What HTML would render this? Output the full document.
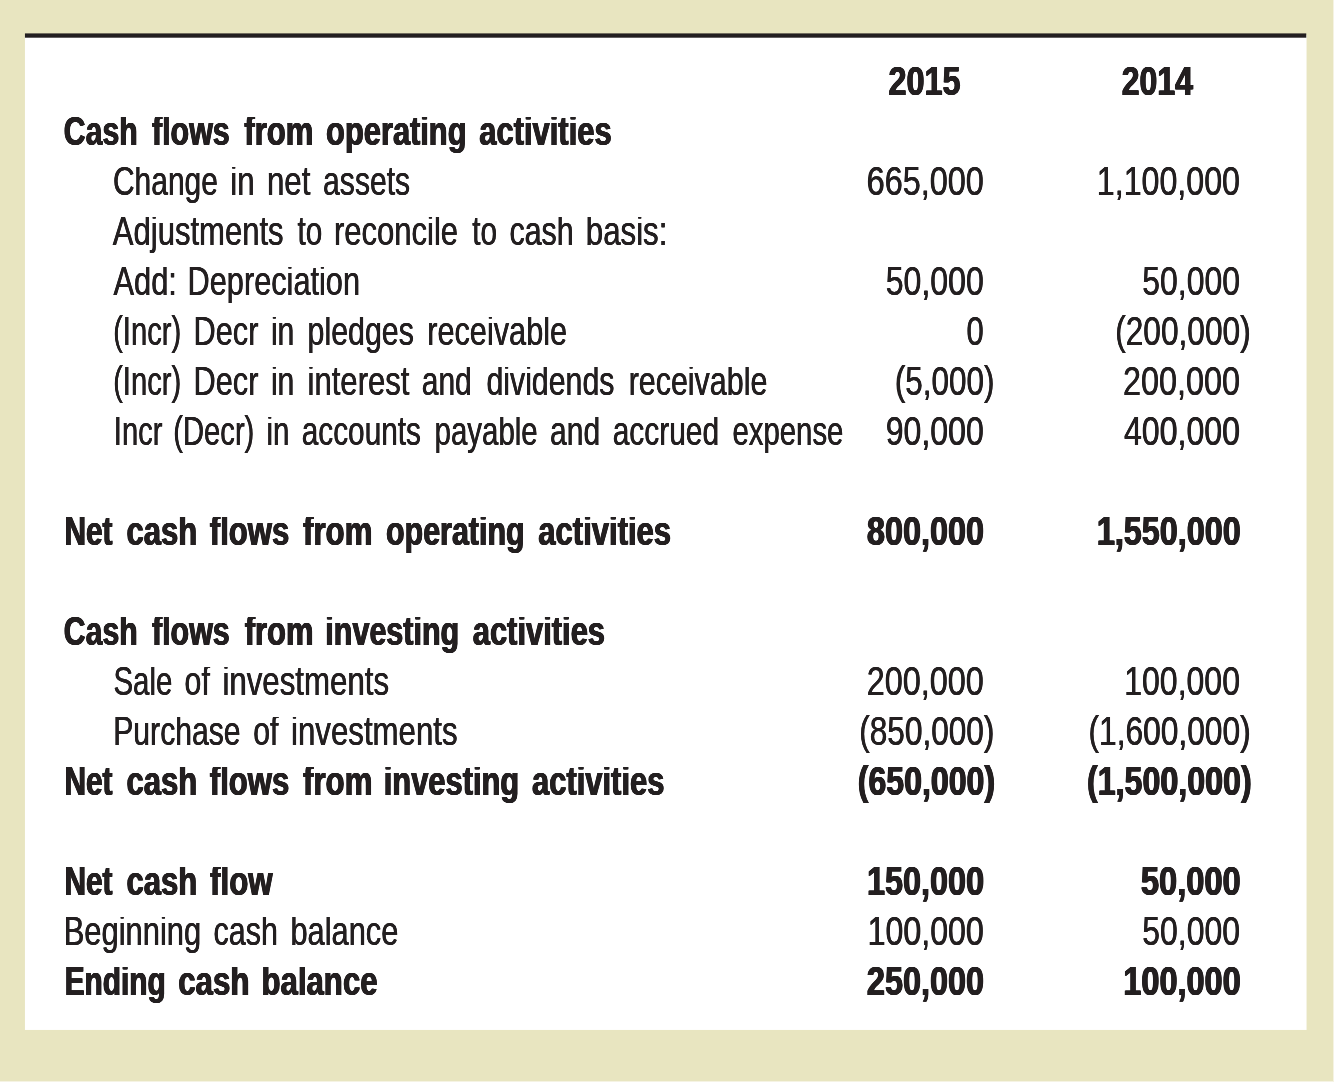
<!DOCTYPE html>
<html lang="en">
<head>
<meta charset="utf-8">
<title>Statement of Cash Flows</title>
<style>
html,body{margin:0;padding:0}
body{width:1334px;height:1082px;position:relative;overflow:hidden;background:#e8e5c0;color:#231f20;font-family:"Liberation Sans",sans-serif}
#sheet{position:absolute;left:0;top:0;width:1334px;height:1082px}
#er{position:absolute;left:1333px;top:0;width:1px;height:1082px;background:rgba(255,255,255,.55)}
#eb{position:absolute;left:0;top:1081px;width:1333px;height:1px;background:rgba(255,255,255,.55)}
.r{position:absolute;left:0;width:1334px;height:50px;font-size:41px;line-height:50px;white-space:pre}
.r span,.r b{position:absolute;left:0;top:0;transform-origin:0 0;clip-path:inset(10.91px -3px -3px -3px)}
.r .n{font-size:40px;clip-path:none}
.r .p{clip-path:none}
.r span{font-weight:normal;text-shadow:0.34px 0 0 #231f20,-0.34px 0 0 #231f20}
.r b{font-weight:bold;text-shadow:0.66px 0 0 #231f20,-0.66px 0 0 #231f20,0.33px 0 0 #231f20,-0.33px 0 0 #231f20}
</style>
</head>
<body>
<svg id="sheet" width="1334" height="1082" viewBox="0 0 1334 1082" role="presentation"><rect x="24.95" y="35" width="1281.6" height="994.95" fill="#fff"/><rect x="24.95" y="33.4" width="1281.3" height="4.3" fill="#231f20"/></svg>
<div id="er"></div><div id="eb"></div>

<div class="r" style="top:95.30px">
<b class="n" style="transform:translate(888.49px,-38.87px) scaleX(0.8104)">2015</b>
<b class="n" style="transform:translate(1121.80px,-38.87px) scaleX(0.7990)">2014</b>
</div>
<div class="r" style="top:145.30px">
<b style="transform:translate(63.86px,-39.21px) scaleX(0.7355)">Cash</b> <b style="transform:translate(152.00px,-39.21px) scaleX(0.7415)">flows</b> <b style="transform:translate(244.30px,-39.21px) scaleX(0.7591)">from</b> <b style="transform:translate(326.05px,-39.21px) scaleX(0.7522)">operating</b> <b style="transform:translate(479.35px,-39.21px) scaleX(0.7536)">activities</b>
</div>
<div class="r" style="top:195.30px">
<span style="transform:translate(112.99px,-39.21px) scaleX(0.7302)">Change</span> <span style="transform:translate(230.26px,-39.21px) scaleX(0.7624)">in</span> <span style="transform:translate(266.93px,-39.21px) scaleX(0.7624)">net</span> <span style="transform:translate(323.12px,-39.21px) scaleX(0.7342)">assets</span>
<span class="n" style="transform:translate(866.63px,-38.87px) scaleX(0.8101)">665,000</span>
<span class="n" style="transform:translate(1096.84px,-38.87px) scaleX(0.8042)">1,100,000</span>
</div>
<div class="r" style="top:245.30px">
<span style="transform:translate(112.85px,-39.21px) scaleX(0.7566)">Adjustments</span> <span style="transform:translate(297.55px,-39.21px) scaleX(0.7247)">to</span> <span style="transform:translate(333.94px,-39.21px) scaleX(0.7568)">reconcile</span> <span style="transform:translate(472.25px,-39.21px) scaleX(0.7247)">to</span> <span style="transform:translate(509.41px,-39.21px) scaleX(0.7422)">cash</span> <span style="transform:translate(585.75px,-39.21px) scaleX(0.7624)">basis:</span>
</div>
<div class="r" style="top:295.30px">
<span style="transform:translate(113.45px,-39.21px) scaleX(0.7523)">Add:</span> <span style="transform:translate(187.60px,-39.21px) scaleX(0.7489)">Depreciation</span>
<span class="n" style="transform:translate(885.75px,-38.87px) scaleX(0.8010)">50,000</span>
<span class="n" style="transform:translate(1142.35px,-38.87px) scaleX(0.7977)">50,000</span>
</div>
<div class="r" style="top:345.30px">
<span class="p" style="transform:translate(113.13px,-39.21px) scaleX(0.7120)">(Incr)</span> <span style="transform:translate(193.60px,-39.21px) scaleX(0.7490)">Decr</span> <span style="transform:translate(270.88px,-39.21px) scaleX(0.7364)">in</span> <span style="transform:translate(307.57px,-39.21px) scaleX(0.7398)">pledges</span> <span style="transform:translate(427.25px,-39.21px) scaleX(0.7483)">receivable</span>
<span class="n" style="transform:translate(966.53px,-38.87px) scaleX(0.7726)">0</span>
<span class="n" style="transform:translate(1115.17px,-38.87px) scaleX(0.7914)">(200,000)</span>
</div>
<div class="r" style="top:395.30px">
<span class="p" style="transform:translate(113.13px,-39.21px) scaleX(0.7120)">(Incr)</span> <span style="transform:translate(193.60px,-39.21px) scaleX(0.7490)">Decr</span> <span style="transform:translate(270.88px,-39.21px) scaleX(0.7364)">in</span> <span style="transform:translate(307.53px,-39.21px) scaleX(0.7583)">interest</span> <span style="transform:translate(421.72px,-39.21px) scaleX(0.7317)">and</span> <span style="transform:translate(486.41px,-39.21px) scaleX(0.7390)">dividends</span> <span style="transform:translate(628.67px,-39.21px) scaleX(0.7418)">receivable</span>
<span class="n" style="transform:translate(894.88px,-38.87px) scaleX(0.7850)">(5,000)</span>
<span class="n" style="transform:translate(1123.03px,-38.87px) scaleX(0.8087)">200,000</span>
</div>
<div class="r" style="top:445.30px">
<span style="transform:translate(113.82px,-39.21px) scaleX(0.7109)">Incr</span> <span class="p" style="transform:translate(173.35px,-39.21px) scaleX(0.7109)">(Decr)</span> <span style="transform:translate(266.41px,-39.21px) scaleX(0.7186)">in</span> <span style="transform:translate(301.72px,-39.21px) scaleX(0.7269)">accounts</span> <span style="transform:translate(434.62px,-39.21px) scaleX(0.7174)">payable</span> <span style="transform:translate(550.02px,-39.21px) scaleX(0.7317)">and</span> <span style="transform:translate(612.72px,-39.21px) scaleX(0.7291)">accrued</span> <span style="transform:translate(732.43px,-39.21px) scaleX(0.7161)">expense</span>
<span class="n" style="transform:translate(885.75px,-38.87px) scaleX(0.8010)">90,000</span>
<span class="n" style="transform:translate(1123.95px,-38.87px) scaleX(0.8023)">400,000</span>
</div>
<div class="r" style="top:545.30px">
<b style="transform:translate(64.46px,-39.21px) scaleX(0.7275)">Net</b> <b style="transform:translate(126.54px,-39.21px) scaleX(0.7566)">cash</b> <b style="transform:translate(209.80px,-39.21px) scaleX(0.7578)">flows</b> <b style="transform:translate(303.10px,-39.21px) scaleX(0.7603)">from</b> <b style="transform:translate(386.06px,-39.21px) scaleX(0.7413)">operating</b> <b style="transform:translate(538.34px,-39.21px) scaleX(0.7565)">activities</b>
<b class="n" style="transform:translate(866.89px,-38.87px) scaleX(0.8107)">800,000</b>
<b class="n" style="transform:translate(1096.88px,-38.87px) scaleX(0.8082)">1,550,000</b>
</div>
<div class="r" style="top:645.30px">
<b style="transform:translate(63.86px,-39.21px) scaleX(0.7355)">Cash</b> <b style="transform:translate(152.00px,-39.21px) scaleX(0.7415)">flows</b> <b style="transform:translate(244.70px,-39.21px) scaleX(0.7546)">from</b> <b style="transform:translate(325.31px,-39.21px) scaleX(0.7440)">investing</b> <b style="transform:translate(472.75px,-39.21px) scaleX(0.7536)">activities</b>
</div>
<div class="r" style="top:695.30px">
<span style="transform:translate(113.43px,-39.21px) scaleX(0.7179)">Sale</span> <span style="transform:translate(184.61px,-39.21px) scaleX(0.7366)">of</span> <span style="transform:translate(222.43px,-39.21px) scaleX(0.7616)">investments</span>
<span class="n" style="transform:translate(866.73px,-38.87px) scaleX(0.8094)">200,000</span>
<span class="n" style="transform:translate(1124.25px,-38.87px) scaleX(0.8002)">100,000</span>
</div>
<div class="r" style="top:745.30px">
<span style="transform:translate(113.24px,-39.21px) scaleX(0.7351)">Purchase</span> <span style="transform:translate(253.21px,-39.21px) scaleX(0.7366)">of</span> <span style="transform:translate(291.03px,-39.21px) scaleX(0.7616)">investments</span>
<span class="n" style="transform:translate(859.27px,-38.87px) scaleX(0.7890)">(850,000)</span>
<span class="n" style="transform:translate(1088.46px,-38.87px) scaleX(0.7929)">(1,600,000)</span>
</div>
<div class="r" style="top:795.30px">
<b style="transform:translate(64.46px,-39.21px) scaleX(0.7275)">Net</b> <b style="transform:translate(126.54px,-39.21px) scaleX(0.7566)">cash</b> <b style="transform:translate(209.80px,-39.21px) scaleX(0.7578)">flows</b> <b style="transform:translate(303.10px,-39.21px) scaleX(0.7603)">from</b> <b style="transform:translate(383.69px,-39.21px) scaleX(0.7531)">investing</b> <b style="transform:translate(532.05px,-39.21px) scaleX(0.7542)">activities</b>
<b class="n" style="transform:translate(857.80px,-38.87px) scaleX(0.8016)">(650,000)</b>
<b class="n" style="transform:translate(1086.99px,-38.87px) scaleX(0.8049)">(1,500,000)</b>
</div>
<div class="r" style="top:895.30px">
<b style="transform:translate(64.46px,-39.21px) scaleX(0.7275)">Net</b> <b style="transform:translate(126.54px,-39.21px) scaleX(0.7566)">cash</b> <b style="transform:translate(210.10px,-39.21px) scaleX(0.7626)">flow</b>
<b class="n" style="transform:translate(866.98px,-38.87px) scaleX(0.8101)">150,000</b>
<b class="n" style="transform:translate(1140.88px,-38.87px) scaleX(0.8160)">50,000</b>
</div>
<div class="r" style="top:945.30px">
<span style="transform:translate(63.69px,-39.21px) scaleX(0.7535)">Beginning</span> <span style="transform:translate(213.61px,-39.21px) scaleX(0.7422)">cash</span> <span style="transform:translate(290.45px,-39.21px) scaleX(0.7510)">balance</span>
<span class="n" style="transform:translate(867.64px,-38.87px) scaleX(0.8030)">100,000</span>
<span class="n" style="transform:translate(1142.35px,-38.87px) scaleX(0.7977)">50,000</span>
</div>
<div class="r" style="top:995.30px">
<b style="transform:translate(64.68px,-39.21px) scaleX(0.7275)">Ending</b> <b style="transform:translate(178.24px,-39.21px) scaleX(0.7621)">cash</b> <b style="transform:translate(261.58px,-39.21px) scaleX(0.7592)">balance</b>
<b class="n" style="transform:translate(866.89px,-38.87px) scaleX(0.8107)">250,000</b>
<b class="n" style="transform:translate(1123.28px,-38.87px) scaleX(0.8122)">100,000</b>
</div>
</body>
</html>
